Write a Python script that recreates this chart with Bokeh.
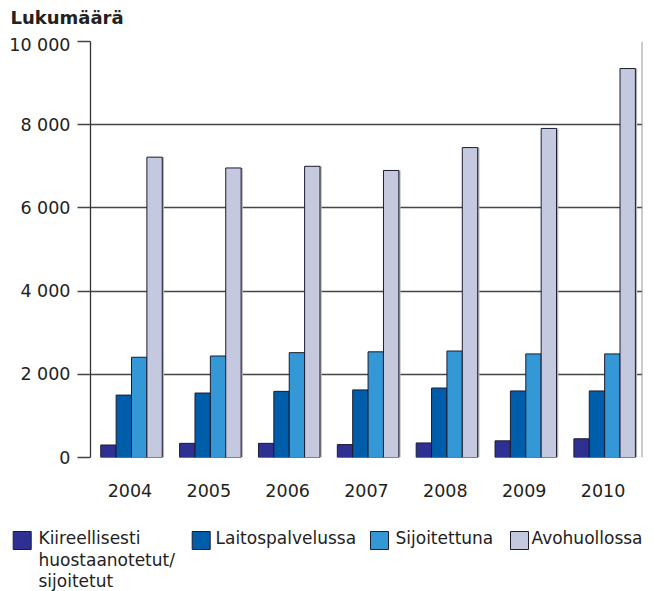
from bokeh.plotting import figure
from bokeh.models import (ColumnDataSource, FactorRange, FixedTicker, Span, Range1d)
from bokeh.transform import dodge
from bokeh.layouts import column
from bokeh.embed import file_html
from bokeh.resources import INLINE
from bokeh.core.properties import value

# ---- data -------------------------------------------------------------
years = ["2004", "2005", "2006", "2007", "2008", "2009", "2010"]
kiireelliset = [300, 340, 340, 310, 350, 400, 450]
laitoshuolto = [1500, 1550, 1590, 1625, 1670, 1600, 1600]
sijoitettuna = [2410, 2440, 2520, 2540, 2560, 2490, 2490]
avohuolto = [7220, 6960, 7000, 6900, 7450, 7910, 9350]
series_names = ["Kiireellisesti\nhuostaanotetut/\nsijoitetut", "Laitospalvelussa",
                "Sijoitettuna", "Avohuollossa"]
y_ticks = [0, 2000, 4000, 6000, 8000, 10000]
y_tick_labels = ["0", "2 000", "4 000", "6 000", "8 000", "10 000"]
title_text = "Lukumäärä"

colors = ["#2E3192", "#005DAA", "#3398D5", "#C4C9E0"]
FONT = "DejaVu Sans"
W = 654

# ---- title strip ----------------------------------------------------------
tf = figure(width=W, height=34, x_range=Range1d(0, W), y_range=Range1d(34, 0),
            output_backend="svg", toolbar_location=None, min_border=0,
            frame_align=False)
tf.axis.visible = False
tf.grid.visible = False
tf.outline_line_color = None
tf.text(x=[10], y=[16.5], text=[title_text], text_font=value(FONT),
        text_font_size="18px", text_font_style="bold", text_color="#222222",
        text_baseline="middle", text_align="left")

# ---- main chart -------------------------------------------------------------
src = ColumnDataSource(dict(year=years, k=kiireelliset, l=laitoshuolto,
                            s=sijoitettuna, a=avohuolto))

p = figure(x_range=FactorRange(*years, range_padding=0), y_range=Range1d(0, 10000),
           width=W, height=481, output_backend="svg", toolbar_location=None,
           min_border_left=90, min_border_right=12, min_border_top=7,
           min_border_bottom=58, frame_align=False)
p.outline_line_color = None

bw = 0.195
shift = 0.02
offs = [-1.5 * bw, -0.5 * bw, 0.5 * bw, 1.5 * bw]
# light drop shadow to the right of each bar
for col, off in zip(["k", "l", "s", "a"], offs):
    p.vbar(x=dodge("year", off + shift + 0.022, range=p.x_range), top=col, width=bw,
           source=src, fill_color="#b4b4b4", line_color=None)
for col, off, c in zip(["k", "l", "s", "a"], offs, colors):
    p.vbar(x=dodge("year", off + shift, range=p.x_range), top=col, width=bw,
           source=src, fill_color=c, line_color="#1c1c30", line_width=1)

p.xgrid.grid_line_color = None
p.ygrid.grid_line_color = "#454545"
p.ygrid.grid_line_width = 1.3
p.yaxis.ticker = FixedTicker(ticks=y_ticks)
p.yaxis.major_label_overrides = {t: l for t, l in zip(y_ticks, y_tick_labels)}
p.yaxis.axis_line_color = "#333333"
p.yaxis.axis_line_width = 1.3
p.yaxis.major_tick_out = 13
p.yaxis.major_tick_in = 0
p.yaxis.major_tick_line_color = "#454545"
p.yaxis.major_tick_line_width = 1.3
p.yaxis.minor_tick_line_color = None
p.yaxis.major_label_standoff = 7
p.yaxis.major_label_text_font = FONT
p.yaxis.major_label_text_font_size = "17.5px"
p.yaxis.major_label_text_color = "#222222"

p.xaxis.axis_line_color = None
p.xaxis.major_tick_line_color = None
p.xaxis.major_tick_out = 0
p.xaxis.major_tick_in = 0
p.xaxis.major_label_standoff = 26
p.xaxis.major_label_text_font = FONT
p.xaxis.major_label_text_font_size = "17.5px"
p.xaxis.major_label_text_color = "#222222"

p.add_layout(Span(location=7, dimension="height", line_color="#999999", line_width=2))

# ---- legend strip -----------------------------------------------------------
lg = figure(width=W, height=76, x_range=Range1d(0, W), y_range=Range1d(76, 0),
            output_backend="svg", toolbar_location=None, min_border=0,
            frame_align=False)
lg.axis.visible = False
lg.grid.visible = False
lg.outline_line_color = None

sq_x = [12.7, 191.7, 370, 510]
txt_x = [38, 215, 395, 531]
lg_src = ColumnDataSource(dict(x=[x + 9 for x in sq_x], y=[25] * 4, c=colors,
                               tx=txt_x, ty=[12.5] * 4, t=series_names))
lg.rect(x="x", y="y", width=18, height=18, source=lg_src, fill_color="c",
        line_color="#1c1c30", line_width=1)
lg.text(x="tx", y="ty", text="t", source=lg_src, text_font=value(FONT),
        text_font_size="17px", text_baseline="top", text_align="left",
        text_line_height=1.08, text_color="#222222")

layout = column(tf, p, lg, spacing=0)
open("out.html", "w").write(file_html(layout, INLINE))
